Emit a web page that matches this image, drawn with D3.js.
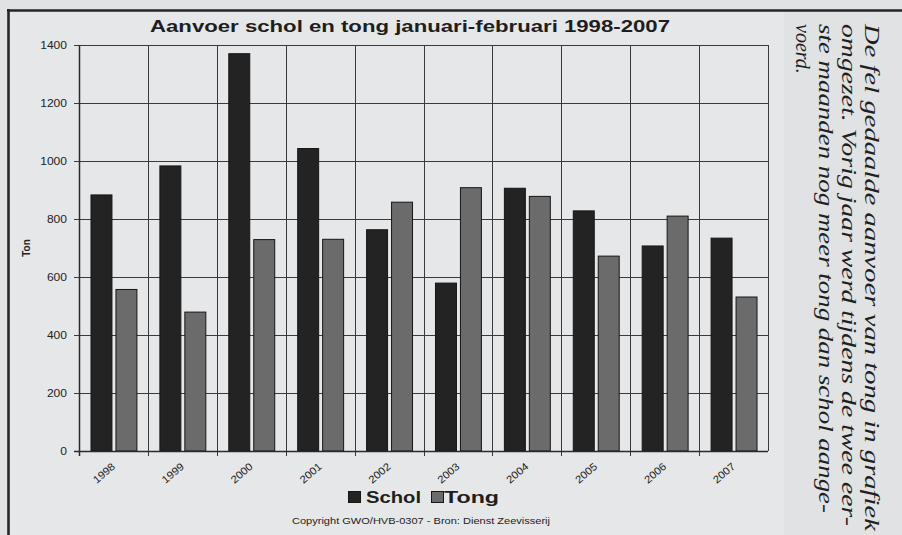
<!DOCTYPE html>
<html><head><meta charset="utf-8">
<script src="https://cdn.jsdelivr.net/npm/d3@7"></script>
<style>html,body{margin:0;padding:0;background:#e1e2e4;}svg{display:block;}</style>
</head><body><svg id="c" width="902" height="535"></svg>
<script>
// ---- data ----
const years = ["1998","1999","2000","2001","2002","2003","2004","2005","2006","2007"];
const schol = [883, 983, 1370, 1043, 763, 579, 906, 828, 707, 734];
const tong  = [557, 479, 729, 730, 858, 908, 878, 672, 810, 531];
const seriesNames = ["Schol", "Tong"];
const yTicks = [0, 200, 400, 600, 800, 1000, 1200, 1400];
const titleText = "Aanvoer schol en tong januari-februari 1998-2007";
const yLabelText = "Ton";
const creditText = "Copyright GWO/HVB-0307 - Bron: Dienst Zeevisserij";
const sideLines = [
  "De fel gedaalde aanvoer van tong in grafiek",
  "omgezet. Vorig jaar werd tijdens de twee eer-",
  "ste maanden nog meer tong dan schol aange-",
  "voerd."
];

// ---- layout / style ----
const W = 902, H = 535;
const plot = {l: 79, r: 768, t: 45, b: 451};
const fill = {Schol: "#232323", Tong: "#6b6b6b"};
const gridColor = "#3a3a3a";
const sans = "'Liberation Sans', Arial, sans-serif";

const svg = d3.select("#c");
svg.append("rect").attr("width", W).attr("height", H).attr("fill", "#e1e2e4");
svg.append("rect").attr("x", 9).attr("y", 11).attr("width", 775).attr("height", H - 11).attr("fill", "#e6e7e9");

const x = d3.scaleBand().domain(years).range([plot.l, plot.r]).padding(0);
const x1 = d3.scaleBand().domain(seriesNames).range([0, x.bandwidth()]).paddingInner(0.16).paddingOuter(0.46);
const y = d3.scaleLinear().domain([0, 1400]).range([plot.b, plot.t]);

// y axis
const yAxis = d3.axisLeft(y).tickValues(yTicks).tickFormat(d3.format("d")).tickSize(5).tickPadding(7);
const gy = svg.append("g").attr("transform", `translate(${plot.l},0)`).call(yAxis);
gy.select(".domain").remove();
gy.selectAll(".tick line").attr("stroke", gridColor);
gy.selectAll(".tick text")
  .attr("font-family", sans).attr("font-size", 10).attr("fill", "#222")
  .attr("textLength", d => String(d).length * 6.7).attr("lengthAdjust", "spacingAndGlyphs");

// gridlines
const grid = svg.append("g").attr("stroke", gridColor).attr("stroke-width", 1);
grid.selectAll("line.h").data(yTicks).join("line").attr("class", "h")
  .attr("x1", plot.l).attr("x2", plot.r)
  .attr("y1", d => Math.round(y(d)) + 0.5).attr("y2", d => Math.round(y(d)) + 0.5);
const vBounds = years.map(d => x(d)).concat([plot.r]);
grid.selectAll("line.v").data(vBounds).join("line").attr("class", "v")
  .attr("x1", d => Math.round(d) + 0.5).attr("x2", d => Math.round(d) + 0.5)
  .attr("y1", plot.t).attr("y2", (d, i) => (i === vBounds.length - 1 ? plot.b : plot.b + 5));

// bars
const rows = years.map((yr, i) => ({year: yr, Schol: schol[i], Tong: tong[i]}));
const groups = svg.append("g").selectAll("g").data(rows).join("g")
  .attr("transform", d => `translate(${x(d.year)},0)`);
groups.selectAll("rect").data(d => seriesNames.map(s => ({s, v: d[s]}))).join("rect")
  .attr("x", d => x1(d.s) + 0.5)
  .attr("y", d => y(d.v))
  .attr("width", x1.bandwidth())
  .attr("height", d => plot.b - y(d.v))
  .attr("fill", d => fill[d.s])
  .attr("stroke", "#161616").attr("stroke-width", 1);

// axis lines
svg.append("line").attr("x1", plot.l - 5).attr("x2", plot.r).attr("y1", plot.b + 0.5).attr("y2", plot.b + 0.5)
  .attr("stroke", "#2a2a2a").attr("stroke-width", 1.5);
svg.append("line").attr("x1", plot.l + 0.5).attr("x2", plot.l + 0.5).attr("y1", plot.t).attr("y2", plot.b + 5)
  .attr("stroke", "#2a2a2a").attr("stroke-width", 1.5);

// x axis labels
const xAxis = d3.axisBottom(x).tickSize(0).tickPadding(0);
const gx = svg.append("g").attr("transform", `translate(0,${plot.b})`).call(xAxis);
gx.select(".domain").remove();
gx.selectAll(".tick text")
  .attr("font-family", sans).attr("font-size", 10.5).attr("fill", "#222")
  .attr("text-anchor", "end").attr("x", 0).attr("y", 0).attr("dy", "0.35em")
  .attr("textLength", 25).attr("lengthAdjust", "spacingAndGlyphs")
  .attr("transform", "translate(0,14) rotate(-40)");

// y label
svg.append("text").attr("transform", "translate(30,248) rotate(-90)")
  .attr("text-anchor", "middle").attr("font-family", sans).attr("font-weight", "bold")
  .attr("font-size", 10).attr("fill", "#222").text(yLabelText);

// title
svg.append("text").attr("x", 150).attr("y", 32)
  .attr("font-family", sans).attr("font-weight", "bold").attr("font-size", 16.5).attr("fill", "#1e1e1e")
  .attr("textLength", 520).attr("lengthAdjust", "spacingAndGlyphs").text(titleText);

// legend
const legendPos = {Schol: {sq: 348, tx: 366, len: 55}, Tong: {sq: 431, tx: 444, len: 55}};
const lg = svg.append("g");
seriesNames.forEach(s => {
  lg.append("rect").attr("x", legendPos[s].sq + 0.5).attr("y", 491.5).attr("width", 12).attr("height", 11)
    .attr("fill", fill[s]).attr("stroke", "#161616").attr("stroke-width", 1);
  lg.append("text").attr("x", legendPos[s].tx).attr("y", 503)
    .attr("font-family", sans).attr("font-weight", "bold").attr("font-size", 16).attr("fill", "#1e1e1e")
    .attr("textLength", legendPos[s].len).attr("lengthAdjust", "spacingAndGlyphs").text(s);
});

// credit
svg.append("text").attr("x", 292).attr("y", 524)
  .attr("font-family", sans).attr("font-size", 9.5).attr("fill", "#222")
  .attr("textLength", 258).attr("lengthAdjust", "spacingAndGlyphs").text(creditText);

// frame
svg.append("line").attr("x1", 7).attr("x2", W).attr("y1", 10.5).attr("y2", 10.5)
  .attr("stroke", "#262626").attr("stroke-width", 2.6);
svg.append("line").attr("x1", 8.5).attr("x2", 8.5).attr("y1", 9).attr("y2", H)
  .attr("stroke", "#262626").attr("stroke-width", 2.6);

// side text (rotated)
const sideBase = [865, 842, 819, 796];
const sideLen = [507, 502, 489, null];
sideLines.forEach((t, i) => {
  const tx = svg.append("text").attr("transform", `translate(${sideBase[i]},24) rotate(90)`)
    .attr("font-family", "'Liberation Serif', 'Times New Roman', serif").attr("font-style", "italic")
    .attr("font-size", 20).attr("fill", "#1f1f1f").text(t);
  if (sideLen[i]) tx.attr("textLength", sideLen[i]).attr("lengthAdjust", "spacingAndGlyphs");
});
</script>
</body></html>
